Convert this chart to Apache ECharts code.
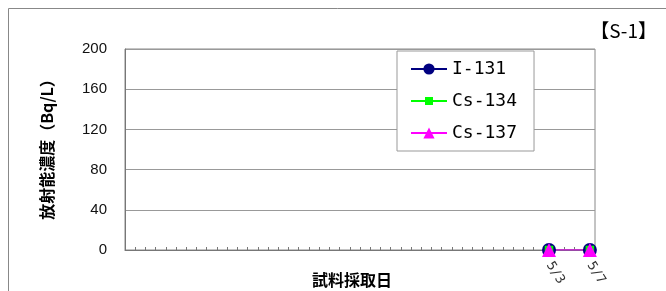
<!DOCTYPE html>
<html>
<head>
<meta charset="utf-8">
<script src="https://cdn.jsdelivr.net/npm/echarts@6/dist/echarts.min.js"></script>
<style>
  html, body { margin: 0; padding: 0; background: #fff; }
  #chart { width: 666px; height: 291px; }
</style>
</head>
<body>
<div id="chart"></div>
<script>
// 採取日 (3/23 - 5/7)
const dates = [
  '3/23', '3/24', '3/25', '3/26', '3/27', '3/28', '3/29', '3/30', '3/31',
  '4/1', '4/2', '4/3', '4/4', '4/5', '4/6', '4/7', '4/8', '4/9', '4/10',
  '4/11', '4/12', '4/13', '4/14', '4/15', '4/16', '4/17', '4/18', '4/19', '4/20',
  '4/21', '4/22', '4/23', '4/24', '4/25', '4/26', '4/27', '4/28', '4/29', '4/30',
  '5/1', '5/2', '5/3', '5/4', '5/5', '5/6', '5/7',
]
// ラベルを出す日
const shownDates = ['5/3', '5/7']
const yTicks = [0, 40, 80, 120, 160, 200]

// 測定値 [採取日, Bq/L]
const i131 = [['5/3', 0], ['5/7', 0]]
const cs134 = [['5/3', 0], ['5/7', 0]]
const cs137 = [['5/3', 0], ['5/7', 0]]

const jpFont = "'Noto Sans CJK JP', sans-serif"
// 小さめの四角 (外枠の点でサイズを固定)
const smallRect = 'path://M0,0L0.01,0L0.01,0.01Z M2,2L12,2L12,12L2,12Z M14,14L13.99,14L13.99,13.99Z'

const chart = echarts.init(document.getElementById('chart'))

const option = {
  animation: false,
  title: {
    text: '【S-1】',
    right: 4,
    top: 16,
    textStyle: { fontFamily: jpFont, fontSize: 19, fontWeight: 'normal', color: '#000' },
  },
  graphic: [
    {
      // 外枠 (上と左)
      type: 'polyline',
      shape: { points: [[8.5, 291], [8.5, 8.5], [666, 8.5]] },
      style: { stroke: '#888', lineWidth: 1, fill: null },
    },
  ],
  legend: {
    orient: 'vertical',
    left: 397,
    top: 51,
    backgroundColor: '#fff',
    borderColor: '#999',
    borderWidth: 1,
    padding: [9, 17, 9, 13],
    itemWidth: 36,
    itemHeight: 14,
    itemGap: 14,
    textStyle: { fontFamily: "'DejaVu Sans Mono', monospace", fontSize: 18, color: '#000' },
    data: ['I-131', 'Cs-134', 'Cs-137'],
  },
  grid: {
    left: 125,
    right: 71,
    top: 49,
    bottom: 41,
    outerBoundsMode: 'none',
    show: true,
    borderColor: '#888',
    borderWidth: 1,
    backgroundColor: '#fff',
  },
  xAxis: {
    type: 'category',
    data: dates,
    boundaryGap: true,
    name: '試料採取日',
    nameLocation: 'middle',
    nameGap: 22,
    nameMoveOverlap: false,
    nameTextStyle: { fontFamily: jpFont, fontSize: 16, fontWeight: 'bold', color: '#000', padding: [0, 16, 0, 0] },
    axisLine: { lineStyle: { color: '#777' } },
    axisTick: { show: true, inside: true, length: 3, interval: 0, lineStyle: { color: '#777' } },
    axisLabel: {
      interval: (i, v) => shownDates.includes(v),
      rotate: -58,
      margin: 13,
      fontSize: 13,
      fontFamily: "'DejaVu Sans Mono', monospace",
      color: '#333',
    },
    splitLine: { show: false },
  },
  yAxis: {
    type: 'value',
    min: yTicks[0],
    max: yTicks[yTicks.length - 1],
    interval: 40,
    name: '放射能濃度（Bq/L）',
    nameLocation: 'middle',
    nameRotate: 90,
    nameGap: 70,
    nameMoveOverlap: false,
    nameTextStyle: { fontFamily: jpFont, fontSize: 16, fontWeight: 'bold', color: '#000', padding: [0, 0, 0, 8] },
    axisLine: { show: true, lineStyle: { color: '#777' } },
    axisTick: { show: false },
    axisLabel: { margin: 18, fontSize: 15, color: '#111', fontFamily: 'Liberation Sans, sans-serif' },
    splitLine: { show: true, lineStyle: { color: '#999' } },
  },
  series: [
    {
      name: 'I-131',
      type: 'line',
      data: i131,
      symbol: 'circle',
      symbolSize: 14,
      color: '#000080',
      itemStyle: { color: '#000080' },
      lineStyle: { color: '#000080', width: 1.5 },
    },
    {
      name: 'Cs-134',
      type: 'line',
      data: cs134,
      symbol: smallRect,
      symbolSize: 12,
      color: '#00ff00',
      itemStyle: { color: '#00ff00' },
      lineStyle: { color: '#00ff00', width: 1.5 },
    },
    {
      name: 'Cs-137',
      type: 'line',
      data: cs137,
      symbol: 'triangle',
      symbolSize: 14,
      color: '#ff00ff',
      itemStyle: { color: '#ff00ff' },
      lineStyle: { color: '#ff00ff', width: 1.5 },
    },
  ],
}

chart.setOption(option)
</script>
</body>
</html>
